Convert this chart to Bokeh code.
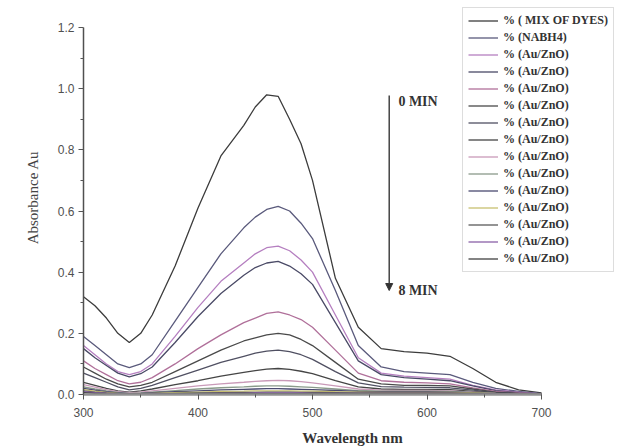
from bokeh.plotting import figure
from bokeh.models import Legend, LegendItem, Arrow, NormalHead, Label, FixedTicker, NumeralTickFormatter
from bokeh.embed import file_html
from bokeh.resources import INLINE

wavelength = [300, 310, 320, 330, 340, 350, 360, 380, 400, 420, 440, 450, 460, 470,
              480, 490, 500, 520, 540, 560, 580, 600, 620, 640, 660, 680, 700]

mix_of_dyes = [0.32, 0.29, 0.25, 0.20, 0.17, 0.20, 0.26, 0.42, 0.61, 0.78, 0.88, 0.94, 0.98, 0.975,
               0.90, 0.82, 0.70, 0.38, 0.22, 0.15, 0.14, 0.135, 0.125, 0.085, 0.04, 0.015, 0.005]
nabh4 = [0.19, 0.16, 0.13, 0.10, 0.088, 0.10, 0.13, 0.24, 0.35, 0.46, 0.545, 0.58, 0.605, 0.615,
         0.60, 0.56, 0.51, 0.34, 0.16, 0.09, 0.075, 0.07, 0.065, 0.04, 0.02, 0.01, 0.003]
auzno_1 = [0.16, 0.13, 0.10, 0.075, 0.065, 0.075, 0.10, 0.19, 0.285, 0.37, 0.43, 0.46, 0.48, 0.485,
           0.47, 0.44, 0.40, 0.26, 0.12, 0.07, 0.06, 0.055, 0.05, 0.03, 0.015, 0.008, 0.002]
auzno_2 = [0.15, 0.12, 0.095, 0.07, 0.058, 0.068, 0.09, 0.17, 0.255, 0.33, 0.39, 0.415, 0.43, 0.435,
           0.42, 0.395, 0.36, 0.235, 0.11, 0.065, 0.055, 0.05, 0.045, 0.028, 0.013, 0.006, 0.002]
auzno_3 = [0.11, 0.085, 0.065, 0.045, 0.035, 0.04, 0.055, 0.10, 0.15, 0.195, 0.235, 0.25, 0.265, 0.27,
           0.26, 0.245, 0.22, 0.145, 0.07, 0.045, 0.04, 0.038, 0.035, 0.022, 0.01, 0.005, 0.001]
auzno_4 = [0.09, 0.07, 0.05, 0.035, 0.025, 0.03, 0.04, 0.075, 0.11, 0.145, 0.175, 0.185, 0.195, 0.2,
           0.195, 0.18, 0.16, 0.105, 0.05, 0.035, 0.03, 0.03, 0.028, 0.018, 0.008, 0.004, 0.001]
auzno_5 = [0.07, 0.055, 0.04, 0.025, 0.015, 0.02, 0.03, 0.055, 0.08, 0.105, 0.125, 0.135, 0.142, 0.145,
           0.14, 0.13, 0.115, 0.075, 0.038, 0.026, 0.024, 0.023, 0.022, 0.014, 0.006, 0.003, 0.001]
auzno_6 = [0.04, 0.03, 0.02, 0.012, 0.008, 0.012, 0.018, 0.032, 0.045, 0.06, 0.072, 0.078, 0.083, 0.085,
           0.082, 0.076, 0.068, 0.045, 0.025, 0.018, 0.017, 0.017, 0.016, 0.01, 0.005, 0.002, 0.001]
auzno_7 = [0.032, 0.024, 0.016, 0.009, 0.006, 0.008, 0.012, 0.02, 0.028, 0.035, 0.04, 0.043, 0.045, 0.046,
           0.045, 0.042, 0.038, 0.028, 0.018, 0.014, 0.013, 0.013, 0.012, 0.008, 0.004, 0.002, 0.001]
auzno_8 = [0.025, 0.018, 0.012, 0.007, 0.004, 0.005, 0.008, 0.013, 0.018, 0.022, 0.025, 0.027, 0.028, 0.028,
           0.027, 0.025, 0.023, 0.018, 0.013, 0.011, 0.011, 0.011, 0.01, 0.007, 0.004, 0.002, 0.001]
auzno_9 = [0.02, 0.014, 0.009, 0.005, 0.003, 0.004, 0.006, 0.009, 0.012, 0.015, 0.017, 0.018, 0.019, 0.019,
           0.018, 0.017, 0.016, 0.013, 0.01, 0.009, 0.009, 0.009, 0.008, 0.006, 0.003, 0.002, 0.001]
auzno_10 = [0.016, 0.011, 0.007, 0.004, 0.002, 0.003, 0.004, 0.006, 0.008, 0.01, 0.011, 0.012, 0.012, 0.012,
            0.012, 0.011, 0.011, 0.009, 0.008, 0.007, 0.007, 0.007, 0.007, 0.005, 0.003, 0.002, 0.001]
auzno_11 = [0.012, 0.008, 0.005, 0.003, 0.002, 0.002, 0.003, 0.004, 0.005, 0.006, 0.007, 0.007, 0.008, 0.008,
            0.008, 0.007, 0.007, 0.006, 0.005, 0.005, 0.005, 0.005, 0.005, 0.004, 0.002, 0.001, 0.001]
auzno_12 = [0.009, 0.006, 0.004, 0.002, 0.001, 0.001, 0.002, 0.003, 0.003, 0.004, 0.004, 0.005, 0.005, 0.005,
            0.005, 0.005, 0.004, 0.004, 0.004, 0.004, 0.004, 0.004, 0.004, 0.003, 0.002, 0.001, 0.0]
auzno_13 = [0.006, 0.004, 0.002, 0.001, 0.001, 0.001, 0.001, 0.002, 0.002, 0.002, 0.003, 0.003, 0.003, 0.003,
            0.003, 0.003, 0.003, 0.003, 0.003, 0.003, 0.003, 0.003, 0.003, 0.002, 0.001, 0.001, 0.0]

series = [mix_of_dyes, nabh4, auzno_1, auzno_2, auzno_3, auzno_4, auzno_5, auzno_6,
          auzno_7, auzno_8, auzno_9, auzno_10, auzno_11, auzno_12, auzno_13]
labels = ["% ( MIX OF DYES)", "% (NABH4)"] + ["% (Au/ZnO)"] * 13
colors = ["#3c3c3c", "#5a5a7c", "#b57fc0", "#4a4a66", "#b0709a", "#4a4a4a", "#505062", "#454545",
          "#c99ab8", "#8a9a8a", "#4a4a70", "#c8c070", "#5a5a5a", "#8a60a8", "#404040"]

x_ticks = [300, 400, 500, 600, 700]
y_ticks = [0.0, 0.2, 0.4, 0.6, 0.8, 1.0, 1.2]

# axes span 300-700 over 458 px and 0-1.2 over 367 px; the frame extends further
# right and up so that the legend (which overlaps the plot) is not clipped
FW, FH = 538, 394
x_end = 300 + 400 * FW / 458
y_end = 1.2 * FH / 367

p = figure(frame_width=FW, frame_height=FH, x_range=(300, x_end), y_range=(0, y_end),
           output_backend="svg", toolbar_location=None,
           min_border_left=83, min_border_right=0, min_border_top=0, min_border_bottom=53)
p.outline_line_color = None
p.xgrid.grid_line_color = None
p.ygrid.grid_line_color = None
p.background_fill_color = "white"
p.border_fill_color = "white"

renderers = []
for ys, c in zip(series, colors):
    r = p.line(wavelength, ys, line_color=c, line_width=1.3)
    renderers.append(r)

items = [LegendItem(label=l, renderers=[r]) for l, r in zip(labels, renderers)]
legend = Legend(items=items, location=(379, 122), orientation="vertical",
                label_text_font="Liberation Serif", label_text_font_style="bold",
                label_text_font_size="12px", label_text_color="#333333",
                glyph_width=30, glyph_height=15, label_height=15, label_standoff=5,
                spacing=2, padding=5, margin=0,
                border_line_color="#bbbbbb", border_line_width=1,
                background_fill_color="white", background_fill_alpha=1.0)
p.add_layout(legend, "center")

# axes
p.xaxis.ticker = FixedTicker(ticks=x_ticks, minor_ticks=[350, 450, 550, 650])
p.yaxis.ticker = FixedTicker(ticks=y_ticks, minor_ticks=[0.1, 0.3, 0.5, 0.7, 0.9, 1.1])
p.yaxis.formatter = NumeralTickFormatter(format="0.0")
p.xaxis.bounds = (300, 700)
p.yaxis.bounds = (0, 1.2)

for ax in (p.xaxis[0], p.yaxis[0]):
    ax.major_label_text_font = "Liberation Sans"
    ax.major_label_text_font_size = "12px"
    ax.major_label_text_color = "#505050"
    ax.major_tick_in = 0
    ax.major_tick_out = 5
    ax.minor_tick_in = 0
    ax.minor_tick_out = 3
    ax.major_tick_line_color = "#555555"
    ax.minor_tick_line_color = "#555555"

p.xaxis.axis_line_color = "#909090"
p.xaxis.axis_line_width = 2.5
p.yaxis.axis_line_color = "#505050"
p.yaxis.axis_line_width = 1.5
p.xaxis.major_label_standoff = 8
p.yaxis.major_label_standoff = 4

p.xaxis.axis_label = "Wavelength nm"
p.xaxis.axis_label_text_font = "Liberation Serif"
p.xaxis.axis_label_text_font_style = "bold"
p.xaxis.axis_label_text_font_size = "15px"
p.xaxis.axis_label_text_color = "#333333"
p.xaxis.axis_label_standoff = 10

p.yaxis.axis_label = "Absorbance Au"
p.yaxis.axis_label_text_font = "Liberation Serif"
p.yaxis.axis_label_text_font_style = "normal"
p.yaxis.axis_label_text_font_size = "15px"
p.yaxis.axis_label_text_color = "#444444"
p.yaxis.axis_label_standoff = 14

# time arrow
arrow_x = 567
p.add_layout(Arrow(end=NormalHead(size=7, fill_color="#333333", line_color="#333333"),
                   x_start=arrow_x, y_start=0.978, x_end=arrow_x, y_end=0.34,
                   line_color="#444444", line_width=1.5))
p.add_layout(Label(x=575, y=0.958, text="0 MIN", text_font="Liberation Serif",
                   text_font_style="bold", text_font_size="14px", text_color="#333333",
                   text_baseline="middle"))
p.add_layout(Label(x=575, y=0.34, text="8 MIN", text_font="Liberation Serif",
                   text_font_style="bold", text_font_size="14px", text_color="#333333",
                   text_baseline="middle"))

open("out.html", "w").write(file_html(p, INLINE))
